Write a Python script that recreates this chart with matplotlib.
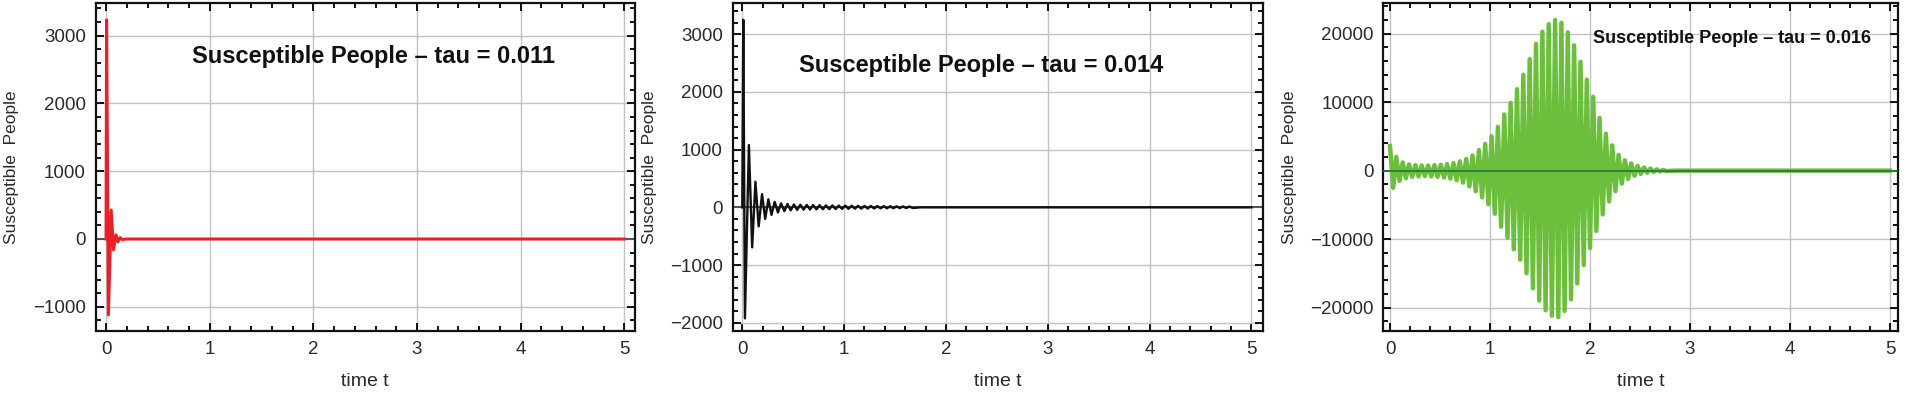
import matplotlib
matplotlib.use("Agg")
import matplotlib.pyplot as plt
import matplotlib.ticker as mticker
from matplotlib import font_manager

# ---- data ----
# panel 1, tau = 0.011 (red)
t1 = [0.0, 0.005, 0.023, 0.049, 0.072, 0.095, 0.115, 0.135, 0.155, 0.20, 5.0]
s1 = [0, 3230, -1120, 428, -160, 60, -40, 20, -8, 0, 0]

# panel 2, tau = 0.014 (black): peaks and troughs of the decaying oscillation
peak_t2 = [0.010, 0.065, 0.129, 0.194, 0.256, 0.318, 0.381, 0.444, 0.507, 0.570,
           0.633, 0.696, 0.759, 0.822, 0.885, 0.948, 1.011, 1.074, 1.137, 1.200,
           1.263, 1.326, 1.389, 1.452, 1.515, 1.578, 1.641]
peak_s2 = [3250, 1080, 444, 230, 140, 95, 70, 58, 50, 45, 42, 40, 37, 35, 33, 31,
           30, 28, 27, 25, 24, 22, 21, 19, 18, 16, 15]
trough_t2 = [0.026, 0.097, 0.161, 0.225, 0.287, 0.350, 0.413, 0.476, 0.539, 0.602,
             0.665, 0.728, 0.791, 0.854, 0.917, 0.980, 1.043, 1.106, 1.169, 1.232,
             1.295, 1.358, 1.421, 1.484, 1.547, 1.610, 1.673]
trough_s2 = [-1924, -693, -330, -200, -130, -90, -65, -52, -45, -40, -37, -35, -33,
             -31, -29, -27, -26, -24, -23, -21, -20, -18, -17, -16, -14, -13, -12]

# panel 3, tau = 0.016 (green): growing then decaying oscillation
peak_t3 = [0.000, 0.063, 0.127, 0.190, 0.254, 0.317, 0.381, 0.444, 0.508, 0.571,
           0.635, 0.698, 0.762, 0.825, 0.889, 0.952, 1.016, 1.079, 1.143, 1.206,
           1.270, 1.333, 1.397, 1.460, 1.524, 1.587, 1.651, 1.714, 1.778, 1.841,
           1.905, 1.968, 2.032, 2.095, 2.159, 2.222, 2.286, 2.349, 2.413, 2.476,
           2.540, 2.603, 2.667, 2.730]
peak_s3 = [3600, 2000, 1200, 900, 800, 750, 750, 800, 850, 950, 1100, 1350,
           1700, 2200, 3000, 3900, 5000, 6400, 8200, 9900, 11900, 14000, 16300, 18500,
           20300, 21400, 22000, 21600, 20200, 18300, 15900, 13300, 10800, 7700, 5400, 3700,
           2300, 1500, 1050, 700, 450, 300, 180, 100]
trough_t3 = [0.032, 0.095, 0.159, 0.222, 0.286, 0.349, 0.413, 0.476, 0.540, 0.603,
             0.667, 0.730, 0.794, 0.857, 0.921, 0.984, 1.048, 1.111, 1.175, 1.238,
             1.302, 1.365, 1.429, 1.492, 1.556, 1.619, 1.683, 1.746, 1.810, 1.873,
             1.937, 2.000, 2.064, 2.127, 2.191, 2.254, 2.318, 2.381, 2.445, 2.508,
             2.572, 2.635, 2.699, 2.762]
trough_s3 = [-2500, -1500, -1100, -900, -850, -800, -850, -900, -1000, -1150, -1400, -1750,
             -2300, -3000, -3900, -4900, -6300, -8200, -9800, -11500, -13000, -15000, -17200, -19000,
             -20400, -21200, -21400, -20500, -18800, -16500, -13800, -11300, -8800, -6400, -4500, -3000,
             -1900, -1200, -750, -480, -300, -190, -120, -70]

titles = ["Susceptible People \u2013 tau = 0.011",
          "Susceptible People \u2013 tau = 0.014",
          "Susceptible People \u2013 tau = 0.016"]


def interleave(pt, ps, tt, ts):
    t, s = [0.0], [0.0]
    for a, b, c, d in zip(pt, ps, tt, ts):
        t += [a, c]
        s += [b, d]
    return t, s


t2, s2 = interleave(peak_t2, peak_s2, trough_t2, trough_s2)
t2 += [1.75, 5.0]
s2 += [0, 0]
t3, s3 = interleave(peak_t3, peak_s3, trough_t3, trough_s3)
t3 = t3[1:] + [2.85, 5.0]
s3 = s3[1:] + [0, 0]

plt.rcParams['font.family'] = ['Liberation Sans', 'DejaVu Sans']

try:
    font_manager.findfont('Liberation Sans Narrow', fallback_to_default=False)
    narrow = ['Liberation Sans Narrow', 'DejaVu Sans']
    tsize = 19
except Exception:
    narrow = ['Liberation Sans', 'DejaVu Sans']
    tsize = 17

fig = plt.figure(figsize=(19.05, 3.94), dpi=100)
H = 394.0
W = 1905.0
boxes = [(95.7, 634.6), (732.7, 1262.7), (1383.3, 1898.3)]
xlims = [(-0.1, 5.1), (-0.094, 5.11), (-0.067, 5.083)]
ylims = [(-1357, 3476), (-2143, 3536), (-23430, 24450)]
ymaj = [1000, 1000, 10000]
ymin = [200, 200, 2000]
colors = ['#e8202a', '#111111', '#6cbf3c']
widths = [2.2, 1.7, 3.2]
series = [(t1, s1), (t2, s2), (t3, s3)]
title_pos = [(0.515, 0.839), (0.468, 0.809), (0.678, 0.893)]
title_font = [(narrow, tsize), (narrow, tsize), (['Liberation Sans', 'DejaVu Sans'], 13)]
zero_col = ['#555555', '#555555', '#1d7a3a']
ylab_x = [19, 657, 1297]

for i in range(3):
    l, r = boxes[i]
    ax = fig.add_axes([l / W, (H - 331) / H, (r - l) / W, (331 - 3.3) / H])
    ax.set_xlim(*xlims[i])
    ax.set_ylim(*ylims[i])
    ax.grid(True, color='#c2c2c2', lw=1.0)
    ax.set_axisbelow(True)
    ax.axhline(0, color=zero_col[i], lw=1.4, zorder=2)
    t, s = series[i]
    ax.plot(t, s, color=colors[i], lw=widths[i], zorder=3, solid_joinstyle='round')
    if i == 2:
        ax.axhline(0, color=zero_col[i], lw=1.2, zorder=4)

    ax.xaxis.set_major_locator(mticker.MultipleLocator(1))
    ax.xaxis.set_minor_locator(mticker.MultipleLocator(0.2))
    ax.yaxis.set_major_locator(mticker.MultipleLocator(ymaj[i]))
    ax.yaxis.set_minor_locator(mticker.MultipleLocator(ymin[i]))
    ax.tick_params(which='both', direction='in', top=True, right=True,
                   labelsize=13.5, labelcolor='#2a2a2a', width=1.3)
    ax.tick_params(which='major', length=6, pad=7)
    ax.tick_params(which='minor', length=3.5)
    for sp in ax.spines.values():
        sp.set_linewidth(1.6)
        sp.set_color('#111111')

    ax.set_xlabel('time t', fontsize=14, color='#2a2a2a', labelpad=11)
    ax.set_ylabel('Susceptible  People', fontsize=12.5, color='#2a2a2a')
    ax.yaxis.set_label_coords((ylab_x[i] - l) / (r - l), 0.5)

    fam, fs = title_font[i]
    ax.text(title_pos[i][0], title_pos[i][1], titles[i], transform=ax.transAxes,
            ha='center', va='center', fontsize=fs, fontweight='bold',
            family=fam, color='#111111', zorder=5)

fig.savefig('out.png', dpi=100)
